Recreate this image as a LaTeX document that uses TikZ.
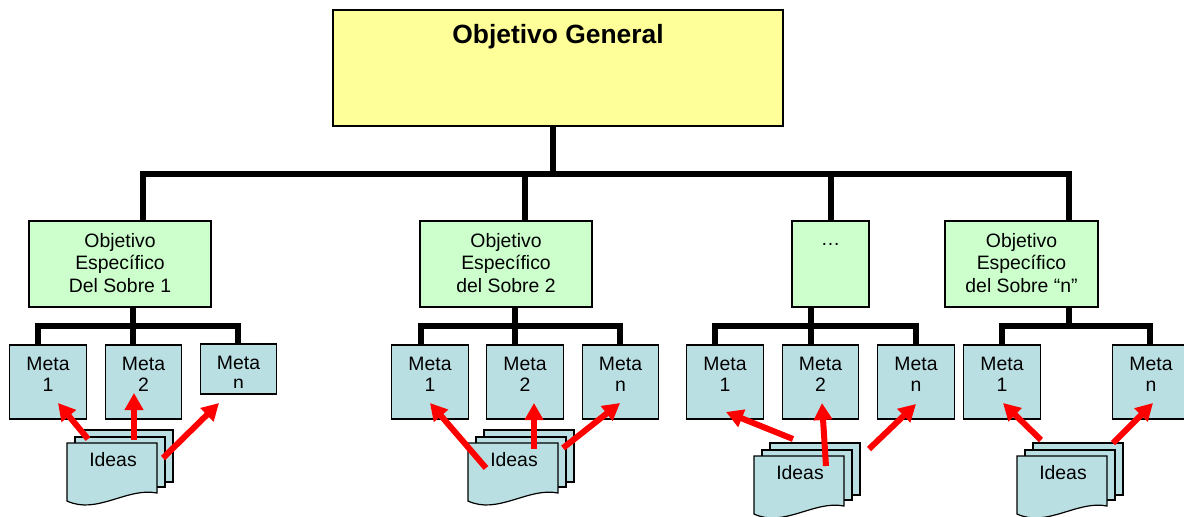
\documentclass[tikz,border=0pt]{standalone}
\usepackage{fontspec}
\setmainfont{Liberation Sans}
\usetikzlibrary{arrows.meta}
\definecolor{ylw}{HTML}{FFFF99}
\definecolor{grn}{HTML}{CCFFCC}
\definecolor{blu}{HTML}{BADFE3}
\definecolor{rd}{HTML}{FF0000}
\newcommand\ideasdoc[3]{%
  \begin{scope}[shift={(#2,#3)}]
    \draw[docpage] (16,-13) rectangle (106,39);
    \draw[docpage] (8,-6) rectangle (98,44);
    \draw[docpage] (0,0) -- (90,0) -- (90,50) .. controls (60,44) and (30,72) .. (0,58) -- cycle;
    \node[lbl, anchor=base] (#1) at (46,23) {Ideas};
  \end{scope}}
\begin{document}
\begin{tikzpicture}[x=0.5pt, y=-0.5pt,
  tree/.style={line width=2.6pt, line join=miter},
  boxbase/.style={draw=black, line width=0.6pt, inner sep=0pt, outer sep=0pt},
  ybox/.style={boxbase, fill=ylw, minimum width=225pt, minimum height=58pt},
  gbox/.style={boxbase, fill=grn, minimum height=43pt},
  mbox/.style={boxbase, fill=blu, minimum width=38.25pt, minimum height=37pt},
  docpage/.style={draw=black, line width=0.6pt, fill=blu, line join=miter},
  lbl/.style={font=\fontsize{9.7}{10.6}\selectfont, align=center, inner sep=0pt},
  glbl/.style={font=\fontsize{9.7}{11.25}\selectfont, align=center, inner sep=0pt},
  redarrow/.style={draw=rd, line width=3pt, -{Triangle[length=8.5pt,width=9pt]}}]
\useasboundingbox (0,0) rectangle (1184,516);
\clip (0,0) rectangle (1184,516);

% ---------- boxes ----------
\node[ybox] (og) at (558,68) {};
\node[font=\fontsize{13.2}{15}\selectfont\bfseries, inner sep=0pt, anchor=base] at (558,43) {Objetivo General};

\node[gbox, minimum width=91pt] (g1) at (120,264) {};
\node[gbox, minimum width=86pt] (g2) at (506,264) {};
\node[gbox, minimum width=38.5pt] (g3) at (830.5,264) {};
\node[gbox, minimum width=76.5pt] (g4) at (1021.5,264) {};
\node[glbl, anchor=north] at (120,233) {Objetivo\\Específico\\Del Sobre 1};
\node[glbl, anchor=north] at (506,233) {Objetivo\\Específico\\del Sobre 2};
\node[glbl, anchor=base] at (830.5,245) {…};
\node[glbl, anchor=north] at (1021.5,233) {Objetivo\\Específico\\del Sobre “n”};

\node[mbox] (m11) at (48,382) {};
\node[mbox] (m12) at (143.5,382) {};
\node[mbox, minimum height=25pt] (m13) at (238.5,369) {};
\node[mbox] (m21) at (430,382) {};
\node[mbox] (m22) at (525,382) {};
\node[mbox] (m23) at (620.5,382) {};
\node[mbox] (m31) at (725,382) {};
\node[mbox] (m32) at (820.5,382) {};
\node[mbox] (m33) at (916,382) {};
\node[mbox] (m41) at (1002,382) {};
\node[mbox] (m43) at (1151,382) {};

\node[lbl, anchor=north] at (48,357) {Meta\\1};
\node[lbl, anchor=north] at (143.5,357) {Meta\\2};
\node[lbl, anchor=base] at (238.5,369) {Meta};
\begin{scope}
  \clip (200,344) rectangle (277,387);
  \node[lbl, anchor=base] at (238.5,389) {n};
\end{scope}
\node[lbl, anchor=north] at (430,357) {Meta\\1};
\node[lbl, anchor=north] at (525,357) {Meta\\2};
\node[lbl, anchor=north] at (620.5,357) {Meta\\n};
\node[lbl, anchor=north] at (725,357) {Meta\\1};
\node[lbl, anchor=north] at (820.5,357) {Meta\\2};
\node[lbl, anchor=north] at (916,357) {Meta\\n};
\node[lbl, anchor=north] at (1002,357) {Meta\\1};
\node[lbl, anchor=north] at (1151,357) {Meta\\n};

% ---------- tree connectors ----------
\coordinate (t0) at (553,174);
\coordinate (t1) at (143,174);
\coordinate (t2) at (525,174);
\coordinate (t3) at (831,174);
\coordinate (t4) at (1069,174);
\draw[tree] (og.south -| t0) -- (t0);
\draw[tree] (g1.north -| t1) -- (t1) -- (t4) -- (g4.north -| t4);
\draw[tree] (t2) -- (g2.north -| t2);
\draw[tree] (t3) -- (g3.north -| t3);

\coordinate (u1) at (133,326); \coordinate (u1a) at (38,326); \coordinate (u1c) at (238,326);
\draw[tree] (g1.south -| u1) -- (u1);
\draw[tree] (m11.north -| u1a) -- (u1a) -- (u1c) -- (m13.north -| u1c);
\draw[tree] (u1) -- (m12.north -| u1);

\coordinate (u2) at (515,326); \coordinate (u2a) at (421,326); \coordinate (u2c) at (620,326);
\draw[tree] (g2.south -| u2) -- (u2);
\draw[tree] (m21.north -| u2a) -- (u2a) -- (u2c) -- (m23.north -| u2c);
\draw[tree] (u2) -- (m22.north -| u2);

\coordinate (u3) at (811,326); \coordinate (u3a) at (715,326); \coordinate (u3c) at (916,326);
\draw[tree] (g3.south -| u3) -- (u3);
\draw[tree] (m31.north -| u3a) -- (u3a) -- (u3c) -- (m33.north -| u3c);
\draw[tree] (u3) -- (m32.north -| u3);

\coordinate (u4) at (1069,326); \coordinate (u4a) at (1002,326); \coordinate (u4c) at (1150,326);
\draw[tree] (g4.south -| u4) -- (u4);
\draw[tree] (m41.north -| u4a) -- (u4a) -- (u4c) -- (m43.north -| u4c);

% ---------- ideas documents ----------
\ideasdoc{i1}{67}{443}
\ideasdoc{i2}{468}{443}
\ideasdoc{i3}{754}{456}
\ideasdoc{i4}{1017}{456}

% ---------- red arrows ----------
\coordinate (a11) at (88,439);  \coordinate (b11) at (58,403);
\coordinate (a12) at (134,440); \coordinate (b12) at (134,393);
\coordinate (a13) at (163,458); \coordinate (b13) at (219,403);
\coordinate (a21) at (486,468); \coordinate (b21) at (430,403);
\coordinate (a22) at (534,449); \coordinate (b22) at (534,403);
\coordinate (a23) at (563,448); \coordinate (b23) at (620,403);
\coordinate (a31) at (793,439); \coordinate (b31) at (726,412);
\coordinate (a32) at (826,466); \coordinate (b32) at (822,403);
\coordinate (a33) at (869,449); \coordinate (b33) at (916,404);
\coordinate (a41) at (1041,440); \coordinate (b41) at (1003,403);
\coordinate (a43) at (1113,443); \coordinate (b43) at (1153,403);
\foreach \n in {11,12,13,21,22,23,31,32,33,41,43}
  \draw[redarrow] (a\n) -- (b\n);
\end{tikzpicture}
\end{document}
